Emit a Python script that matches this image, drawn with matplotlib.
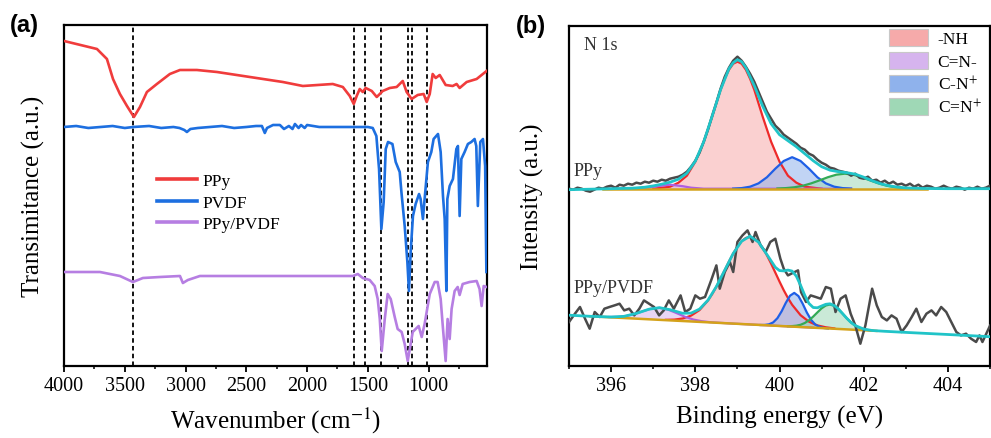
import numpy as np
import matplotlib
matplotlib.use("Agg")
import matplotlib.pyplot as plt
from matplotlib.patches import Patch

plt.rcParams["font.family"] = ["Liberation Serif", "DejaVu Serif"]
plt.rcParams["mathtext.fontset"] = "stix"

# ---------------- (a) FTIR ----------------
ppy_wn = [4000, 3729, 3647, 3597, 3540, 3482, 3425, 3375, 3318, 3236, 3129, 3046, 2907, 2742,
          2471, 2200, 2035, 1789, 1706, 1649, 1616, 1592, 1567, 1542, 1518, 1468, 1427, 1402,
          1378, 1320, 1263, 1213, 1181, 1140, 1090, 1041, 1016, 991, 967, 942, 909, 860, 802,
          770, 745, 687, 605, 523]
ppy_t = [325, 317, 307, 287, 272, 260, 249, 259, 274, 282, 292, 296, 296, 294,
         289, 284, 280, 282, 279, 270, 262, 270, 277, 274, 278, 275, 269, 272,
         275, 278, 279, 285, 274, 267, 271, 272, 264, 272, 292, 288, 291, 281, 280,
         282, 278, 284, 287, 295]

pvdf_wn = [4000, 3900, 3800, 3700, 3600, 3500, 3430, 3300, 3200, 3100, 3050, 3010, 2989, 2960,
           2900, 2800, 2700, 2600, 2500, 2420, 2372, 2348, 2330, 2280, 2224, 2190, 2150, 2120,
           2100, 2070, 2050, 2020, 2000, 1950, 1900, 1800, 1700, 1600, 1500, 1460, 1430, 1408,
           1389, 1370, 1353, 1334, 1298, 1271, 1238, 1224, 1197, 1175, 1162, 1148, 1129, 1107,
           1079, 1066, 1047, 1033, 1006, 978, 959, 923, 901, 882, 868, 854, 846, 827, 800, 772,
           759, 745, 731, 704, 677, 649, 622, 608, 595, 575, 553, 535, 525]
pvdf_t = [239, 240, 238, 239, 240, 238, 239, 240, 238, 239, 238, 236, 234, 237,
          238, 239, 240, 238, 239, 240, 240, 233, 238, 241, 241, 237, 240, 237,
          242, 238, 241, 238, 241, 240, 239, 239, 239, 239, 239, 238, 230, 197,
          137, 164, 217, 224, 222, 204, 194, 174, 140, 104, 75, 114, 150, 162,
          172, 167, 147, 167, 204, 214, 227, 232, 214, 170, 147, 75, 167, 180, 187, 217,
          220, 150, 207, 214, 222, 224, 227, 220, 160, 224, 227, 200, 94]

blend_wn = [4000, 3704, 3540, 3433, 3351, 3211, 3046, 3022, 2981, 2882, 2389, 2060, 1624, 1583,
            1542, 1485, 1444, 1419, 1402, 1386, 1361, 1337, 1312, 1279, 1255, 1222, 1197, 1172,
            1148, 1131, 1107, 1082, 1057, 1033, 991, 950, 926, 901, 885, 860, 844, 827, 811,
            786, 761, 745, 720, 663, 605, 581, 564, 547, 523]
blend_t = [94, 94, 90, 84, 88, 89, 90, 83, 86, 90, 90, 90, 90, 92,
           88, 86, 80, 67, 47, 15, 47, 72, 67, 49, 37, 34, 22, 5,
           22, 34, 37, 40, 29, 42, 72, 84, 84, 67, 42, 5, 47, 27, 57,
           75, 79, 71, 82, 84, 85, 77, 60, 80, 79]

peak_lines = [3430, 1616, 1520, 1389, 1170, 1137, 1010]

# ---------------- (b) XPS N 1s ----------------
# PPy (upper)
ppy_raw_be = np.linspace(395, 405, 101)
ppy_raw = [177, 176, 178, 177, 175, 174, 176, 178, 177, 179,
           180, 178, 181, 180, 182, 181, 183, 182, 184, 183,
           185, 184, 186, 185, 187, 188, 189, 191, 194, 199,
           205, 213, 224, 236, 250, 263, 277, 289, 298, 305,
           309, 305, 299, 292, 284, 274, 264, 254, 247, 240,
           236, 231, 228, 225, 222, 218, 216, 212, 210, 206,
           203, 201, 198, 197, 195, 194, 193, 190, 192, 188,
           187, 189, 185, 186, 183, 185, 182, 184, 181, 182,
           180, 182, 179, 181, 178, 180, 179, 177, 178, 180,
           178, 177, 179, 178, 176, 178, 177, 179, 177, 178, 180]

ppy_fit_be = [395.0, 395.5, 396.0, 396.5, 396.8, 397.0, 397.2, 397.4, 397.6, 397.8, 398.0, 398.2,
              398.4, 398.6, 398.8, 398.9, 399.0, 399.1, 399.2, 399.4, 399.6, 399.8, 400.0, 400.2,
              400.4, 400.6, 400.8, 401.0, 401.2, 401.4, 401.6, 401.8, 402.0, 402.2, 402.4, 402.6,
              402.8, 403.0, 403.4, 404.0, 405.0]
ppy_fit = [176, 176.5, 177, 177.5, 178.5, 179.8, 181.5, 183.5, 186.5, 192.5, 204.5, 224,
           249.5, 276, 297, 303, 306, 304, 298, 280, 259.5, 242, 231, 225,
           219, 212, 205, 199, 195.5, 194, 193, 191.5, 188.5, 185, 182, 180,
           178.6, 177.8, 177.2, 177, 177]

ppy_base_be = [395.8, 403.5]
ppy_base = [177, 177]

ppy_nh_be = [397.0, 397.2, 397.4, 397.6, 397.8, 398.0, 398.2, 398.4, 398.6, 398.7, 398.8, 398.9,
             399.0, 399.1, 399.2, 399.3, 399.4, 399.6, 399.8, 400.0, 400.2, 400.4, 400.6, 400.8, 401.0]
ppy_nh = [177, 178, 179, 183, 190, 204, 224, 249, 276, 287, 296, 302,
          304, 302, 296, 287, 276, 249, 224, 204, 190, 183, 179, 178, 177]

ppy_cn_be = [395.8, 396.6, 396.9, 397.1, 397.4, 397.7, 397.9, 398.2, 401.7]
ppy_cn = [177, 177, 178, 179.5, 181, 179.5, 178, 177, 177]

ppy_cnp_be = [398.9, 399.1, 399.3, 399.5, 399.7, 399.9, 400.1, 400.3, 400.5, 400.7, 400.9, 401.1,
              401.3, 401.5, 401.7]
ppy_cnp = [177.1, 177.6, 179, 182.3, 188.4, 197, 204.7, 208.5, 204.7, 197, 188.4, 182.3,
           179, 177.6, 177.1]

ppy_cdnp_be = [399.95, 400.15, 400.35, 400.55, 400.75, 400.95, 401.15, 401.35, 401.55, 401.75,
               401.95, 402.15, 402.35, 402.55, 402.75, 402.95, 403.15]
ppy_cdnp = [177.2, 177.6, 178.4, 179.9, 182.3, 185.3, 188.5, 191, 192, 191,
            188.5, 185.3, 182.3, 179.9, 178.4, 177.6, 177.2]

# PPy/PVDF (lower)
blend_raw_be = [395.0, 395.14, 395.26, 395.38, 395.49, 395.61, 395.73, 395.84, 395.96, 396.08,
                396.2, 396.31, 396.43, 396.55, 396.67, 396.78, 396.9, 397.02, 397.14, 397.25,
                397.37, 397.49, 397.65, 397.76, 397.88, 398.0, 398.11, 398.23, 398.39, 398.5,
                398.58, 398.7, 398.82, 398.9, 399.0, 399.12, 399.24, 399.36, 399.43, 399.55,
                399.67, 399.78, 399.9, 400.02, 400.1, 400.2, 400.36, 400.44, 400.51, 400.63,
                400.74, 400.86, 400.98, 401.1, 401.22, 401.33, 401.45, 401.57, 401.69, 401.8,
                401.92, 402.04, 402.2, 402.31, 402.43, 402.55, 402.66, 402.78, 402.9, 403.02,
                403.14, 403.25, 403.37, 403.49, 403.61, 403.72, 403.84, 403.96, 404.08, 404.2,
                404.31, 404.43, 404.55, 404.67, 404.75, 404.82, 405.0]
blend_raw = [43.7, 52, 58.7, 47, 37, 53.7, 48.7, 57, 58.7, 60.3,
             62, 55.3, 57, 50.3, 57, 65.3, 62, 58.7, 50.3, 55.3,
             65.3, 57, 70.3, 53.7, 57, 70.3, 67, 68.7, 87, 100.3,
             77, 93.7, 103.7, 93.7, 123.7, 130.3, 135.3, 123.7, 133.7, 120.3,
             113.7, 123.7, 127, 107, 97, 90.3, 93.7, 95.3, 73.7, 63.7,
             70.3, 68.7, 67, 78.7, 77, 53.7, 67, 70.3, 52, 40.3,
             22, 40.3, 77, 60.3, 48.7, 45.3, 50.3, 47, 33.7, 40.3,
             48.7, 57, 43.7, 52, 55.3, 50.3, 58.7, 53.7, 43.7, 33.7,
             30.3, 32, 27, 23.7, 30.3, 23.7, 40]

blend_fit_be = [395.0, 395.5, 396.0, 396.3, 396.6, 396.9, 397.15, 397.4, 397.7, 397.9, 398.1,
                398.3, 398.5, 398.7, 398.9, 399.1, 399.3, 399.5, 399.7, 399.9, 400.0, 400.1,
                400.2, 400.3, 400.4, 400.5, 400.6, 400.7, 400.8, 400.9, 401.0, 401.1, 401.2,
                401.3, 401.4, 401.5, 401.6, 401.7, 401.8, 402.0, 402.2, 402.5, 403.0, 404.0, 405.0]
blend_fit = [50.5, 49.4, 48.7, 49.3, 52.3, 56.5, 58, 56, 52.4, 52.6, 56.6,
             65.5, 79.1, 95.6, 112.2, 124.5, 129.5, 123.6, 111.2, 98.4, 95.1, 94.8,
             95.6, 94.6, 89.5, 80.4, 70.3, 62.2, 58.2, 57.9, 59.7, 61.4, 61.9,
             60.1, 56.7, 52, 47.3, 43.2, 40.1, 36.6, 35.2, 34.4, 33.3, 31.2, 29]

blend_base_be = [395.5, 402.3]
blend_base = [49.4, 34.8]

blend_nh_be = [397.3, 397.5, 397.7, 397.9, 398.1, 398.3, 398.4, 398.5, 398.6, 398.7, 398.8, 398.9,
               399.0, 399.1, 399.2, 399.3, 399.4, 399.5, 399.6, 399.7, 399.8, 399.9, 400.0, 400.1,
               400.2, 400.3, 400.5, 400.7, 400.9, 401.1, 401.3]
blend_nh = [45.9, 46.1, 47.2, 50.1, 55.6, 65.2, 71.6, 79, 87.1, 95.6, 104.2, 112.2,
            119.1, 124.5, 127.8, 128.8, 127.3, 123.6, 117.8, 110.5, 102.1, 93.1, 84.1, 75.5,
            67.7, 60.9, 50.5, 44, 40.3, 38.4, 37.3]

blend_cn_be = [395.95, 396.15, 396.35, 396.55, 396.75, 396.95, 397.15, 397.35, 397.55, 397.75,
               397.95, 398.15, 398.35, 398.8, 399.5, 400.2, 400.8]
blend_cn = [48.7, 48.8, 49.6, 51.6, 54.4, 57, 57.9, 56.1, 52.7, 49,
            46.2, 44.5, 43.5, 42.3, 40.8, 39.3, 38.05]

blend_cnp_be = [399.55, 399.65, 399.75, 399.85, 399.95, 400.05, 400.15, 400.25, 400.35, 400.45,
                400.55, 400.65, 400.75, 400.85, 400.95, 401.05, 401.15]
blend_cnp = [40.7, 40.8, 41.4, 43.3, 47.5, 54.4, 62.9, 70, 72.8, 69.6,
             62, 53.1, 45.8, 41.1, 38.8, 37.7, 37.2]

blend_cdnp_be = [400.2, 400.3, 400.4, 400.5, 400.6, 400.7, 400.8, 400.9, 401.0, 401.1, 401.2,
                 401.3, 401.4, 401.5, 401.6, 401.7, 401.8, 401.9, 402.0, 402.1, 402.2]
blend_cdnp = [39.5, 39.6, 40, 40.9, 42.7, 45.4, 49.1, 53.3, 57.4, 60.2, 61.2,
              59.8, 56.5, 52, 47.3, 43.2, 40.1, 37.9, 36.5, 35.7, 35.2]

comp_labels = ["-NH", "C=N-", "C-N$^{+}$", "C=N$^{+}$"]
comp_line = ["#ee2a2a", "#b05ee0", "#1f5fe6", "#33aa55"]
comp_fill = ["#f6aaaa", "#d6b4ee", "#8fb2ec", "#9fd8b6"]

fig = plt.figure(figsize=(9.91, 4.39), dpi=100)
ax1 = fig.add_axes([0.0646, 0.164, 0.4268, 0.7768])
ax2 = fig.add_axes([0.5742, 0.1647, 0.4248, 0.7745])

# ---- panel a ----
for w in peak_lines:
    ax1.axvline(w, color="black", ls=(0, (2.5, 1.8)), lw=1.3, zorder=1)
ax1.plot(ppy_wn, ppy_t, color="#f03c3c", lw=1.9, label="PPy", zorder=3)
ax1.plot(pvdf_wn, pvdf_t, color="#1d6fe0", lw=1.9, label="PVDF", zorder=3)
ax1.plot(blend_wn, blend_t, color="#b67ee2", lw=1.9, label="PPy/PVDF", zorder=3)
ax1.set_xlim(4000, 520)
ax1.set_ylim(0, 341)
ax1.set_xticks([4000, 3500, 3000, 2500, 2000, 1500, 1000])
ax1.set_xticks(np.arange(3750, 500, -500), minor=True)
ax1.set_yticks([])
ax1.set_xlabel("Wavenumber (cm$^{-1}$)", fontsize=18, labelpad=7)
ax1.set_ylabel("Transimitance (a.u.)", fontsize=18, labelpad=14)
leg = ax1.legend(loc="upper left", bbox_to_anchor=(0.22, 0.565), frameon=False, fontsize=12.5,
                 handlelength=2.3, handletextpad=0.3, labelspacing=0.3, borderpad=0, borderaxespad=0)
for ln in leg.get_lines():
    ln.set_linewidth(2.6)
ax1.text(-0.127, 1.0, "(a)", transform=ax1.transAxes, fontsize=17, fontweight="bold",
         family="Liberation Sans", va="center", ha="left")

# ---- panel b ----
sets = [
    (ppy_base_be, ppy_base, [(ppy_nh_be, ppy_nh), (ppy_cn_be, ppy_cn),
                             (ppy_cnp_be, ppy_cnp), (ppy_cdnp_be, ppy_cdnp)]),
    (blend_base_be, blend_base, [(blend_nh_be, blend_nh), (blend_cn_be, blend_cn),
                                 (blend_cnp_be, blend_cnp), (blend_cdnp_be, blend_cdnp)]),
]
for base_x, base_y, comps in sets:
    for i, (cx, cy) in enumerate(comps):
        bottom = np.interp(cx, base_x, base_y, left=base_y[0], right=base_y[-1])
        ax2.fill_between(cx, cy, bottom, color=comp_fill[i], alpha=0.55, lw=0, zorder=2)
    for i, (cx, cy) in enumerate(comps):
        ax2.plot(cx, cy, color=comp_line[i], lw=1.6, zorder=3)
    ax2.plot(base_x, base_y, color="#d4a21a", lw=1.8, zorder=3)

ax2.plot(ppy_raw_be, ppy_raw, color="#4a4a4a", lw=1.8, zorder=4)
ax2.plot(blend_raw_be, blend_raw, color="#4a4a4a", lw=1.8, zorder=4)
ax2.plot(ppy_fit_be, ppy_fit, color="#20c4c8", lw=2.0, zorder=5)
ax2.plot(blend_fit_be, blend_fit, color="#20c4c8", lw=2.0, zorder=5)

ax2.set_xlim(395, 405)
ax2.set_ylim(0, 340)
ax2.set_xticks([396, 398, 400, 402, 404])
ax2.set_xticks([395, 397, 399, 401, 403, 405], minor=True)
ax2.set_yticks([])
ax2.set_xlabel("Binding energy (eV)", fontsize=18, labelpad=7)
ax2.set_ylabel("Intensity (a.u.)", fontsize=18, labelpad=18)
ax2.text(0.035, 0.945, "N 1s", transform=ax2.transAxes, fontsize=13, color="#333333", va="center")
ax2.text(0.01, 0.575, "PPy", transform=ax2.transAxes, fontsize=13, color="#333333", va="center")
ax2.text(0.01, 0.23, "PPy/PVDF", transform=ax2.transAxes, fontsize=13, color="#333333", va="center")
handles = [Patch(facecolor=comp_fill[i], edgecolor="#c8c8c8", lw=0.8, label=comp_labels[i])
           for i in range(4)]
ax2.legend(handles=handles, loc="upper left", bbox_to_anchor=(0.76, 0.99), frameon=False,
           fontsize=12.5, handlelength=2.25, handleheight=1.1, handletextpad=0.55,
           labelspacing=0.26, borderpad=0, borderaxespad=0)
ax2.text(-0.127, 1.0, "(b)", transform=ax2.transAxes, fontsize=17, fontweight="bold",
         family="Liberation Sans", va="center", ha="left")

for ax in (ax1, ax2):
    for s in ax.spines.values():
        s.set_linewidth(1.6)
    ax.tick_params(axis="x", which="major", direction="out", length=4, width=1.3, labelsize=14.5)
    ax.tick_params(axis="x", which="minor", direction="out", length=2.5, width=1.1)

fig.savefig("out.png", dpi=100)
